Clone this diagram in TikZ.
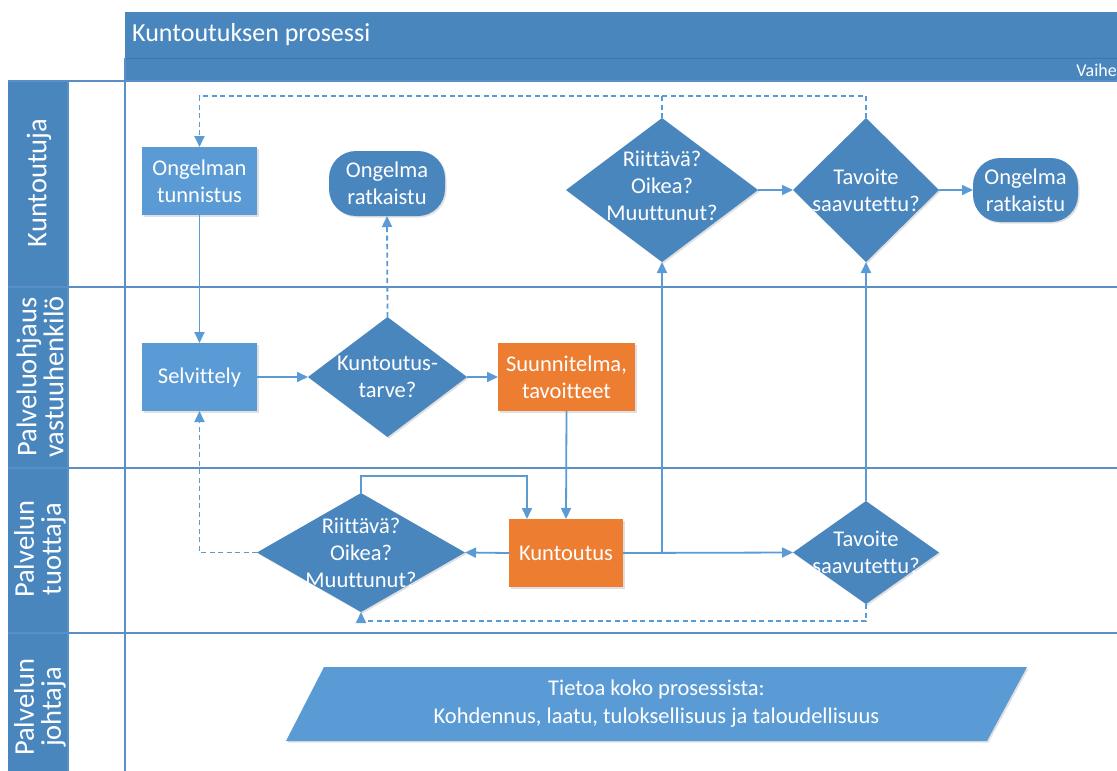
\documentclass[tikz,border=0pt]{standalone}
\usepackage{fontspec}
\setmainfont[Ligatures={NoCommon}]{Carlito}
\usetikzlibrary{arrows.meta,shapes.geometric,shadows}
\definecolor{hdrblue}{HTML}{4A86BE}
\definecolor{hdrdark}{HTML}{3F76AB}
\definecolor{dkblue}{HTML}{4A86BE}
\definecolor{ltblue}{HTML}{5B9BD5}
\definecolor{orng}{HTML}{ED7D31}
\definecolor{laneline}{HTML}{5A8FC6}

\begin{document}
\begin{tikzpicture}[x=1pt,y=-1pt,
  conn/.style={draw=ltblue, line width=1.8pt, -{Triangle[length=11pt,width=10pt]}},
  plainconn/.style={draw=ltblue, line width=1.8pt},
  dashconn/.style={conn, dash pattern=on 5pt off 3.5pt},
  dashplain/.style={plainconn, dash pattern=on 5pt off 3.5pt},
  shade/.style={drop shadow={shadow xshift=1.5pt, shadow yshift=-1.5pt, opacity=0.12, fill=black}},
  txt/.style={text=white, align=center, font=\fontsize{22.5}{27}\selectfont},
  box/.style={rectangle, txt, shade, fill=ltblue, minimum width=115pt, minimum height=68pt, inner sep=0pt, outer sep=0pt},
  obox/.style={box, fill=orng},
  term/.style={rectangle, txt, shade, fill=dkblue, rounded corners=27pt, inner sep=0pt, outer sep=0pt},
  decision/.style={diamond, shade, fill=dkblue, inner sep=0pt, outer sep=0pt},
  dtext/.style={txt, inner sep=0pt},
  lanelab/.style={rotate=90, text=white, align=center, inner sep=0pt, font=\fontsize{28.5}{27}\selectfont},
  laneborder/.style={draw=laneline, line width=1.3pt}
]
\useasboundingbox (0,0) rectangle (1117,771);

% header band
\fill[hdrblue] (125,12) rectangle (1117,80);
\draw[hdrdark, line width=1pt] (125,58) -- (1117,58);
\node[anchor=west, inner sep=0pt, text=white, font=\fontsize{26}{30}\selectfont] (title) at (132,35) {Kuntoutuksen prosessi};
\node[anchor=east, inner sep=0pt, text=white, font=\fontsize{18}{22}\selectfont] (phase) at (1117,70) {Vaihe};

% lane label column
\fill[hdrblue] (8,81) rectangle (68,771);

% lane borders
\draw[laneborder] (8,81) -- (1117,81);
\draw[laneborder] (8,287) -- (1117,287);
\draw[laneborder] (8,468) -- (1117,468);
\draw[laneborder] (8,633) -- (1117,633);
\draw[laneborder] (125,58) -- (125,771);
\draw[laneborder] (68,81) -- (68,771);

% lane titles
\node[lanelab] (lane1) at (39,183) {Kuntoutuja};
\node[lanelab] (lane2) at (40,377) {Palveluohjaus\\vastuuhenkilö};
\node[lanelab] (lane3) at (40,549) {Palvelun\\tuottaja};
\node[lanelab] (lane4) at (40,707) {Palvelun\\johtaja};

% process steps
\node[box] (tunn) at (199.5,181) {Ongelman\\tunnistus};
\node[term, minimum width=116pt, minimum height=65pt] (rat1) at (387,183.5) {Ongelma\\ratkaistu};
\node[decision, minimum width=192pt, minimum height=144pt,
      label={[dtext, yshift=4pt]center:Riittävä?\\Oikea?\\Muuttunut?}] (riU) at (662,190) {};
\node[decision, minimum width=146pt, minimum height=144pt,
      label={[dtext]center:Tavoite\\saavutettu?}] (tavU) at (866,190) {};
\node[term, minimum width=105pt, minimum height=64pt] (rat2) at (1025.5,190) {Ongelma\\ratkaistu};

\node[box] (selv) at (199.5,377) {Selvittely};
\node[decision, minimum width=159pt, minimum height=120pt,
      label={[dtext]center:Kuntoutus-\\tarve?}] (kt) at (387.5,377) {};
\node[obox, minimum width=137pt] (suun) at (566.5,377) {Suunnitelma,\\tavoitteet};

\node[obox, minimum width=114pt] (kunt) at (566,553) {Kuntoutus};
\node[decision, minimum width=208pt, minimum height=119pt,
      label={[dtext]center:Riittävä?\\Oikea?\\Muuttunut?}] (riL) at (361,552.5) {};
\node[decision, minimum width=146pt, minimum height=103pt,
      label={[dtext]center:Tavoite\\saavutettu?}] (tavL) at (866,552.5) {};

% information band
\fill[ltblue, drop shadow={shadow xshift=1.5pt, shadow yshift=-1.5pt, opacity=0.12, fill=black}]
  (324,667) -- (1027,667) -- (987,741) -- (286,741) -- cycle;
\node[txt, font=\fontsize{22.5}{28}\selectfont] (info) at (656.5,704) {Tietoa koko prosessista:\\Kohdennus, laatu, tuloksellisuus ja taloudellisuus};

% routing points
\coordinate (toprail) at (0,96);
\coordinate (botrail) at (0,621);
\coordinate (loopc) at (527,476);

% flow
\draw[conn] (tunn) -- (selv);
\draw[conn] (selv) -- (kt);
\draw[conn] (kt) -- (suun);
\draw[dashconn] (kt.north) -- (rat1.south);
\draw[conn] (suun.south) -- (kunt.north);
\draw[conn] (riL.north) |- (loopc) -- (loopc |- kunt.north);
\draw[conn] (kunt.west) -- (riL.east);
\draw[dashconn] (riL.west) -| (selv.south);
\draw[conn] (kunt.east) -- (tavL.west);
\draw[conn] (kunt.east -| riU.south) -- (riU.south);
\draw[conn] (tavL.north) -- (tavU.south);
\draw[conn] (riU.east) -- (tavU.west);
\draw[conn] (tavU.east) -- (rat2.west);
\draw[dashconn] (riU.north) -- (riU.north |- toprail) -| (tunn.north);
\draw[dashplain] (tavU.north) -- (tavU.north |- toprail) -- (riU.north |- toprail);
\draw[dashconn] (tavL.south) -- (tavL.south |- botrail) -| (riL.south);
\end{tikzpicture}
\end{document}
